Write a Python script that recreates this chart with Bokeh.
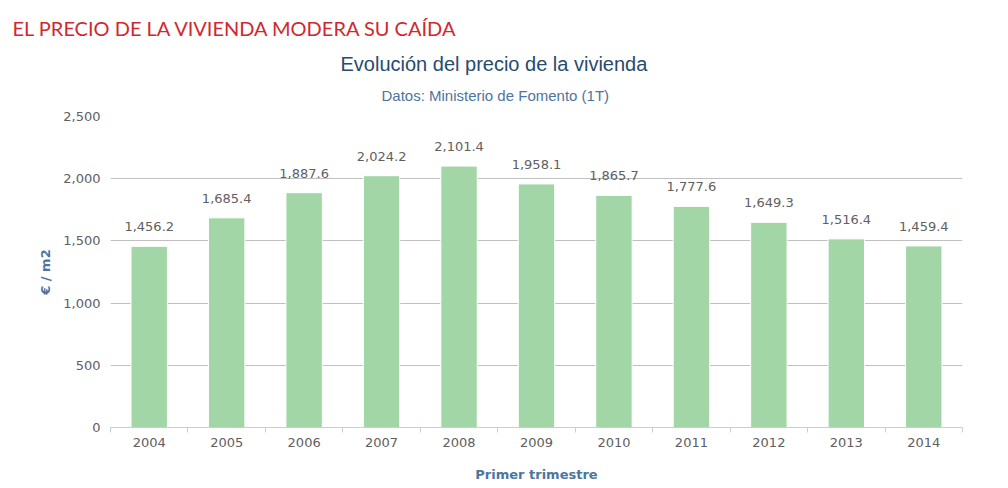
from bokeh.plotting import figure
from bokeh.models import Range1d, FixedTicker, Title, NumeralTickFormatter, ColumnDataSource
from bokeh.core.properties import value
from bokeh.embed import file_html
from bokeh.resources import INLINE

years = ["2004", "2005", "2006", "2007", "2008", "2009", "2010", "2011", "2012", "2013", "2014"]
prices = [1456.2, 1685.4, 1887.6, 2024.2, 2101.4, 1958.1, 1865.7, 1777.6, 1649.3, 1516.4, 1459.4]
y_ticks = [0, 500, 1000, 1500, 2000, 2500]

headline = "EL PRECIO DE LA VIVIENDA MODERA SU CAÍDA"
title = "Evolución del precio de la vivienda"
subtitle = "Datos: Ministerio de Fomento (1T)"
x_title = "Primer trimestre"
y_title = "€ / m2"

FONT = "DejaVu Sans"

n = len(years)
xs = [i + 0.5 for i in range(n)]
labels = [f"{v:,.1f}" for v in prices]
src = ColumnDataSource(dict(x=xs, top=prices, lab=labels))

p = figure(width=1008, height=488, output_backend="svg", toolbar_location=None,
           x_range=Range1d(0, n), y_range=Range1d(0, 2500),
           min_border_left=110, min_border_right=46, min_border_top=0, min_border_bottom=61)
p.outline_line_color = None
p.background_fill_color = "white"
p.border_fill_color = "white"

p.vbar(x="x", top="top", width=0.47, bottom=0, source=src, fill_color="#A2D6A6", line_color="white", line_width=1)
p.text(x="x", y="top", text="lab", source=src, text_align="center", text_baseline="bottom",
       y_offset=-15, text_font_size="13px", text_color="#606060", text_font=value(FONT))

# y axis
p.yaxis.ticker = FixedTicker(ticks=y_ticks)
p.yaxis.formatter = NumeralTickFormatter(format="0,0")
p.yaxis.axis_line_color = None
p.yaxis.major_tick_line_color = None
p.yaxis.minor_tick_line_color = None
p.yaxis.major_tick_out = 0
p.yaxis.major_label_text_font = FONT
p.yaxis.major_label_text_font_size = "13px"
p.yaxis.major_label_text_color = "#606060"
p.yaxis.major_label_standoff = 10
p.yaxis.axis_label = y_title
p.yaxis.axis_label_text_font = FONT
p.yaxis.axis_label_text_font_style = "bold"
p.yaxis.axis_label_text_font_size = "13px"
p.yaxis.axis_label_text_color = "#4d759e"
p.yaxis.axis_label_standoff = 7

p.ygrid.ticker = FixedTicker(ticks=y_ticks[1:])
p.ygrid.grid_line_color = "#C0C0C0"
p.xgrid.grid_line_color = None

# x axis
p.xaxis.ticker = FixedTicker(ticks=xs, minor_ticks=list(range(n + 1)))
p.xaxis.major_label_overrides = {x: y for x, y in zip(xs, years)}
p.xaxis.axis_line_color = "#C0D0E0"
p.xaxis.major_tick_line_color = None
p.xaxis.major_tick_out = 0
p.xaxis.minor_tick_line_color = "#C0D0E0"
p.xaxis.minor_tick_in = 0
p.xaxis.minor_tick_out = 5
p.xaxis.major_label_text_font = FONT
p.xaxis.major_label_text_font_size = "13px"
p.xaxis.major_label_text_color = "#606060"
p.xaxis.major_label_standoff = 5
p.xaxis.axis_label = x_title
p.xaxis.axis_label_text_font = FONT
p.xaxis.axis_label_text_font_style = "bold"
p.xaxis.axis_label_text_font_size = "13px"
p.xaxis.axis_label_text_color = "#4d759e"
p.xaxis.axis_label_standoff = 17

# titles stacked above the frame (first added is nearest the frame)
p.add_layout(Title(text=subtitle, align="left", offset=271, text_font="Liberation Sans",
                   text_font_size="15px", text_font_style="normal", text_color="#4d759e", standoff=26), "above")
p.add_layout(Title(text=title, align="left", offset=230, text_font="Liberation Sans",
                   text_font_size="20px", text_font_style="normal", text_color="#274b6d", standoff=-6), "above")
p.add_layout(Title(text=headline, align="left", offset=-98, text_font="Lato",
                   text_font_size="20px", text_font_style="normal", text_color="#D0282E", standoff=27), "above")

open("out.html", "w").write(file_html(p, INLINE))
